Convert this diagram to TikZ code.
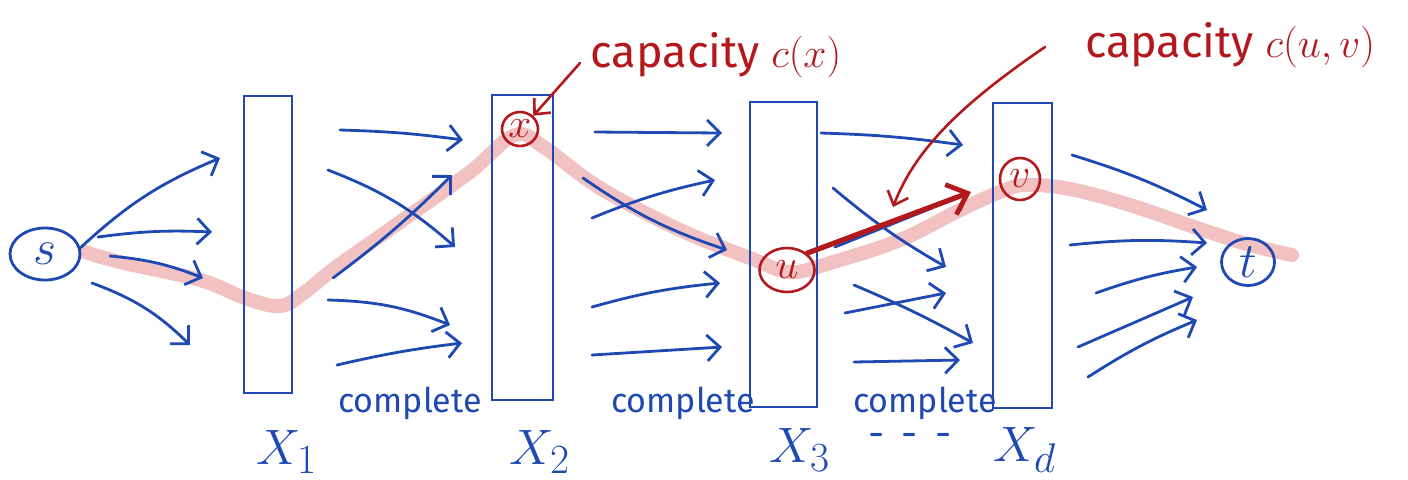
\documentclass[tikz,border=0pt]{standalone}
\usepackage{fontspec}
\setmainfont{Fira Sans}
\usetikzlibrary{arrows.meta,shapes.geometric}
\definecolor{pen}{RGB}{30,72,178}
\definecolor{redpen}{RGB}{178,24,28}
\definecolor{hl}{RGB}{242,194,194}
\begin{document}
\begin{tikzpicture}[x=0.5pt,y=-0.5pt,
  arr/.style={draw=pen,line width=1.4pt,line cap=round,-{Straight Barb[length=6.5pt,width=13pt,line width=1.4pt]}},
  redarr/.style={draw=redpen,line width=1.3pt,line cap=round,-{Straight Barb[length=6pt,width=11pt,line width=1.3pt]}},
  box/.style={draw=pen,line width=1.4pt,inner sep=0pt,outer sep=0pt,minimum height=152.5pt},
  bvert/.style={ellipse,draw=pen,line width=1.4pt,inner sep=0pt,text=pen,font=\fontsize{30}{30}\selectfont},
  rvert/.style={ellipse,draw=redpen,line width=1.3pt,inner sep=0pt,text=redpen,font=\fontsize{21}{21}\selectfont},
  layer/.style={text=pen,font=\fontsize{28}{30}\selectfont},
  comp/.style={text=pen,font=\fontsize{17}{18}\selectfont},
  caplabel/.style={text=redpen,font=\fontsize{22.5}{24}\selectfont}]
\useasboundingbox (0,0) rectangle (1408,479);
% highlighted path
\draw[hl,line width=7pt,line cap=round,line join=round] plot[smooth,tension=0.6] coordinates {
 (85,252) (120,262) (200,280) (245,298) (280,306) (305,292) (335,268) (400,222) (470,172) (515,135)
 (545,148) (600,188) (680,230) (750,258) (790,272) (830,263) (900,240) (960,210) (1000,192)
 (1025,185) (1070,189) (1130,205) (1200,229) (1250,245) (1292,255)};
% layers
\node[box,minimum width=24pt,minimum height=148.5pt] (X1) at (268,244.5) {};
\node[box,minimum width=30.5pt] (X2) at (522.5,247.5) {};
\node[box,minimum width=33.5pt] (X3) at (783.5,254.5) {};
\node[box,minimum width=29.5pt] (Xd) at (1022.5,255.5) {};
\node[layer] (L1) at (287,452) {$X_1$};
\node[layer] (L2) at (540,452) {$X_2$};
\node[layer] (L3) at (800,450) {$X_3$};
\node[layer] (Ld) at (1025,450) {$X_d$};
\node[comp] (c1) at (410,403) {complete};
\node[comp] (c2) at (683,403) {complete};
\node[comp] (c3) at (925,403) {complete};
\node[text=pen,font=\fontsize{20}{20}\selectfont] (dots) at (910,440) {-\, -\, -};
% vertices
\node[bvert,minimum width=35pt,minimum height=26pt] (s) at (45,254) {$s$};
\node[bvert,minimum width=26.5pt,minimum height=23.5pt] (t) at (1248,262) {$t$};
\node[rvert,minimum width=18pt,minimum height=17pt] (x) at (520,129) {$x$};
\node[rvert,minimum width=27.5pt,minimum height=22pt] (u) at (787,270) {$u$};
\node[rvert,minimum width=20pt,minimum height=21pt] (v) at (1020,179) {$v$};
% labels
\node[caplabel] (capx) at (716,55) {capacity $c(x)$};
\node[caplabel] (capuv) at (1230,45) {capacity $c(u,v)$};
% s -> X1
\coordinate (s1) at (220,158); \coordinate (s2) at (212,232);
\coordinate (s3) at (203,278); \coordinate (s4) at (190,345);
\draw[arr] (s.10) to[bend left=10] (s1);
\draw[arr] (98,237) to[bend left=5] (s2);
\draw[arr] (110,256) to[bend left=8] (s3);
\draw[arr] (92,283) to[bend left=12] (s4);
% X1 -> X2
\draw[arr] (340,130) to[bend left=3] (463,140);
\draw[arr] (328,170) to[bend left=10] (455,247);
\draw[arr] (333,278) to[bend right=4] (452,175);
\draw[arr] (328,300) to[bend left=10] (450,325);
\draw[arr] (337,365) to[bend left=3] (462,343);
% X2 -> X3
\draw[arr] (595,132) -- (722,133);
\draw[arr] (592,218) to[bend left=5] (715,180);
\draw[arr] (583,178) to[bend right=8] (727,250);
\draw[arr] (592,307) to[bend left=5] (720,283);
\draw[arr] (592,355) -- (722,347);
% X3 -> Xd
\draw[arr] (821,133) to[bend left=3] (963,145);
\draw[arr] (833,188) to[bend right=5] (946,267);
\draw[arr] (835,247) -- (969,193);
\draw[arr] (845,313) -- (946,293);
\draw[arr] (854,285) to[bend left=3] (973,343);
\draw[arr] (854,362) -- (960,360);
% Xd -> t
\draw[arr] (1072,155) to[bend left=5] (1207,210);
\draw[arr] (1070,245) to[bend left=5] (1207,243);
\draw[arr] (1096,293) to[bend left=5] (1197,267);
\draw[arr] (1078,347) -- (1193,297);
\draw[arr] (1088,377) to[bend left=5] (1197,320);
% red arrows
\draw[draw=redpen,line width=2.6pt,line cap=round,-{Straight Barb[length=9pt,width=16pt,line width=2.4pt]}] (u.40) -- (971,192);
\coordinate (cxa) at (580,63);
\draw[redarr] (cxa) -- (x.45);
\coordinate (cuva) at (1045,47); \coordinate (cuvb) at (893,207);
\draw[redarr] (cuva) .. controls (960,105) and (915,150) .. (cuvb);
\end{tikzpicture}
\end{document}
